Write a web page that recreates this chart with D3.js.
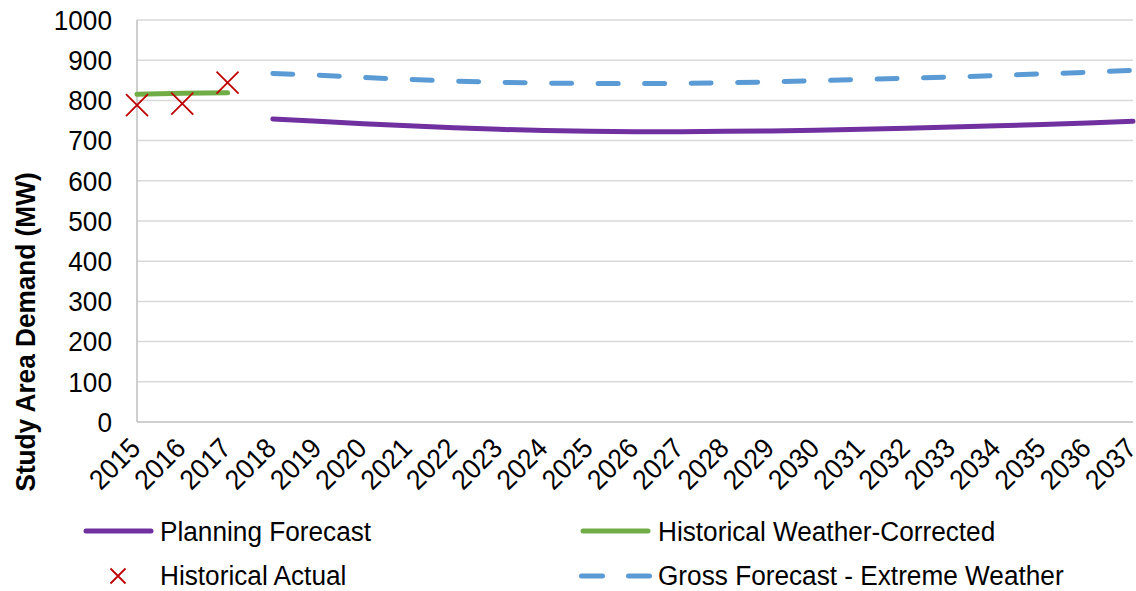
<!DOCTYPE html>
<html><head><meta charset="utf-8">
<script src="https://cdn.jsdelivr.net/npm/d3@7"></script>
<style>body{margin:0;background:#fff}svg{display:block;font-family:"Liberation Sans",Arial,sans-serif}</style>
</head><body><svg id="c" width="1136" height="591"></svg>
<script>
const years = d3.range(2015, 2038).map(String);
const yTicks = [0,100,200,300,400,500,600,700,800,900,1000];
const planYears = years.slice(3);
const planning = [754,748,742,737,732,728,725,723,722,722,723,724,726,728,731,734,737,740,744,748];
const gross = [867,863,857,852,848,845,843,842,842,842,844,846,849,852,855,858,862,866,870,875];
const histYears = ["2015","2016","2017"];
const weatherCorrected = [815,818,819];
const historicalActual = [788,792,844];
const seriesNames = ["Planning Forecast","Historical Weather-Corrected","Historical Actual","Gross Forecast - Extreme Weather"];
const colors = {plan:"#7030a0", green:"#70ad47", red:"#c00000", blue:"#5b9bd5"};

const svg = d3.select("#c");
const L=137, R=1133, T=20, B=422;
const FS = 26.2, SY = 1.07;
const x = d3.scalePoint().domain(years).range([L,R]);
const y = d3.scaleLinear().domain([0,1000]).range([B,T]);

// gridlines
svg.append("g").selectAll("line").data(yTicks.slice(1)).join("line")
  .attr("x1",L).attr("x2",R).attr("y1",d=>y(d)).attr("y2",d=>y(d))
  .attr("stroke","#d9d9d9").attr("stroke-width",1.5);

// axes lines
svg.append("line").attr("x1",L).attr("x2",L).attr("y1",T).attr("y2",B).attr("stroke","#bfbfbf").attr("stroke-width",1.5);
svg.append("line").attr("x1",L).attr("x2",R).attr("y1",B).attr("y2",B).attr("stroke","#bfbfbf").attr("stroke-width",1.5);

// y tick labels
svg.append("g").selectAll("text").data(yTicks).join("text")
  .attr("transform",d=>`translate(112,${y(d)}) scale(1,${SY})`)
  .attr("dy","0.35em").attr("text-anchor","end")
  .attr("font-size",FS).attr("fill","#000").text(d=>d);

// x tick labels
svg.append("g").selectAll("text").data(years).join("text")
  .attr("transform",d=>`translate(${x(d)-2},${B+21}) rotate(-45) scale(1,${SY})`)
  .attr("text-anchor","end").attr("dy","0.35em")
  .attr("font-size",FS).attr("fill","#000").text(d=>d);

// y title
svg.append("text").attr("transform",`translate(25,332) rotate(-90) scale(1,${SY})`)
  .attr("text-anchor","middle").attr("dy","0.35em").attr("font-size",FS).attr("font-weight","bold").text("Study Area Demand (MW)");

const line = d3.line().x(d=>x(d[0])).y(d=>y(d[1]));

svg.append("path").datum(planYears.map((d,i)=>[d,planning[i]])).attr("d",line)
  .attr("fill","none").attr("stroke",colors.plan).attr("stroke-width",5).attr("stroke-linecap","round");
svg.append("path").datum(planYears.map((d,i)=>[d,gross[i]])).attr("d",line)
  .attr("fill","none").attr("stroke",colors.blue).attr("stroke-width",5).attr("stroke-linecap","round")
  .attr("stroke-dasharray","20,26.5");
svg.append("path").datum(histYears.map((d,i)=>[d,weatherCorrected[i]])).attr("d",line)
  .attr("fill","none").attr("stroke",colors.green).attr("stroke-width",5).attr("stroke-linecap","round");

const cross = (g,cx,cy,s)=>{
  g.append("path").attr("d",`M${cx-s},${cy-s}L${cx+s},${cy+s}M${cx-s},${cy+s}L${cx+s},${cy-s}`)
   .attr("stroke",colors.red).attr("stroke-width",1.8).attr("fill","none");
};
const mg = svg.append("g");
histYears.forEach((d,i)=>cross(mg,x(d),y(historicalActual[i]),11));

// legend
const lg = svg.append("g").attr("font-size",FS);
const row1=531, row2=575;
const ltext = (tx,ty,t)=>lg.append("text").attr("transform",`translate(${tx},${ty}) scale(1,${SY})`).attr("dy","0.35em").text(t);
lg.append("line").attr("x1",86).attr("x2",151).attr("y1",row1).attr("y2",row1).attr("stroke",colors.plan).attr("stroke-width",5).attr("stroke-linecap","round");
ltext(160,row1,seriesNames[0]);
lg.append("line").attr("x1",583).attr("x2",648).attr("y1",row1).attr("y2",row1).attr("stroke",colors.green).attr("stroke-width",5).attr("stroke-linecap","round");
ltext(658,row1,seriesNames[1]);
cross(lg,118,row2+1,7.5);
ltext(160,row2,seriesNames[2]);
lg.append("line").attr("x1",581.5).attr("x2",650).attr("y1",row2+1).attr("y2",row2+1).attr("stroke",colors.blue).attr("stroke-width",5).attr("stroke-linecap","round").attr("stroke-dasharray","21,26");
ltext(658,row2,seriesNames[3]);
</script></body></html>
